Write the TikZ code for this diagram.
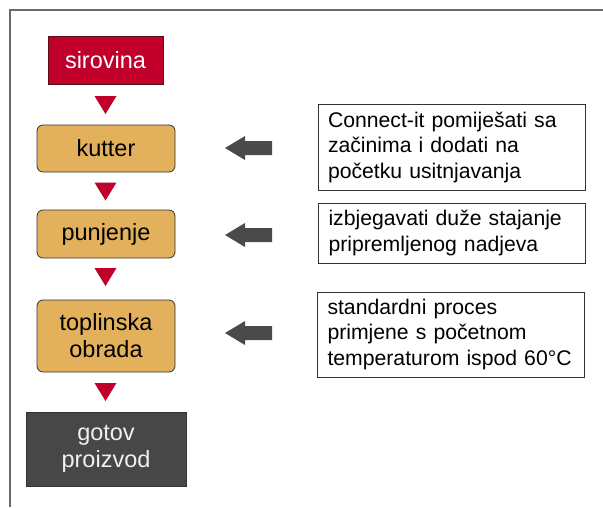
\documentclass[tikz,border=0pt]{standalone}
\usepackage{fontspec}
\setmainfont{Liberation Sans}
\definecolor{redc}{HTML}{C0002A}
\definecolor{redborder}{HTML}{5A0A18}
\definecolor{tanc}{HTML}{E3B05B}
\definecolor{darkc}{HTML}{474747}
\definecolor{arrowc}{HTML}{4A4A4A}
\definecolor{framec}{HTML}{6A6A6A}
\tikzset{
  flow/.style={minimum width=138pt, inner sep=0pt, align=center,
    font=\fontsize{23.5}{27}\selectfont},
  tanbox/.style={flow, draw=black!80, fill=tanc, rounded corners=6pt, line width=0.8pt},
  note/.style={draw=black!80, line width=0.8pt, fill=white, minimum width=267pt,
    text width=247pt, inner xsep=10pt, inner ysep=0pt, align=left,
    font=\fontsize{21.2}{25.5}\selectfont},
  downtri/.pic={\fill[redc] (-11,-9) -- (11,-9) -- (0,9) -- cycle;},
  leftarrow/.pic={\fill[arrowc] (-23.5,0) -- (-3.5,-12) -- (-3.5,-7) -- (23.5,-7)
     -- (23.5,7) -- (-3.5,7) -- (-3.5,12) -- cycle;}
}
\begin{document}
\begin{tikzpicture}[x=1pt,y=-1pt]
\useasboundingbox (0,0) rectangle (603,507);
\draw[framec, line width=1.4pt] (10,507) -- (10,10) -- (603,10);

% flow nodes
\node[flow, draw=redborder, fill=redc, text=white, minimum width=115pt, minimum height=48pt, line width=0.8pt]
  (sir) at (105.5,60) {sirovina};
\node[tanbox, minimum height=47pt] (kut) at (106,148.5) {kutter};
\node[tanbox, minimum height=48pt] (pun) at (106,234) {punjenje};
\node[tanbox, minimum height=72pt] (top) at (106,336) {toplinska\\obrada};
\node[flow, draw=black!80, fill=darkc, text=white!94!black, minimum width=160pt, minimum height=74pt, line width=0.8pt]
  (got) at (106,449) {gotov\\proizvod};

% triangles between flow nodes
\path (105.5,105) pic {downtri};
\path (105.5,191.5) pic {downtri};
\path (105.5,277) pic {downtri};
\path (105.5,392) pic {downtri};

% note boxes
\node[note, minimum height=86pt] (n1) at (451.5,147) {Connect-it pomiješati sa\\začinima i dodati na\\početku usitnjavanja};
\node[note, minimum height=60pt] (n2) at (452,233) {izbjegavati duže stajanje\\pripremljenog nadjeva};
\node[note, minimum height=85pt] (n3) at (451,334.5) {standardni proces\\primjene s početnom\\temperaturom ispod 60°C};

% block arrows
\path (248.5,148) pic {leftarrow};
\path (248.5,235) pic {leftarrow};
\path (248.5,333) pic {leftarrow};
\end{tikzpicture}
\end{document}
